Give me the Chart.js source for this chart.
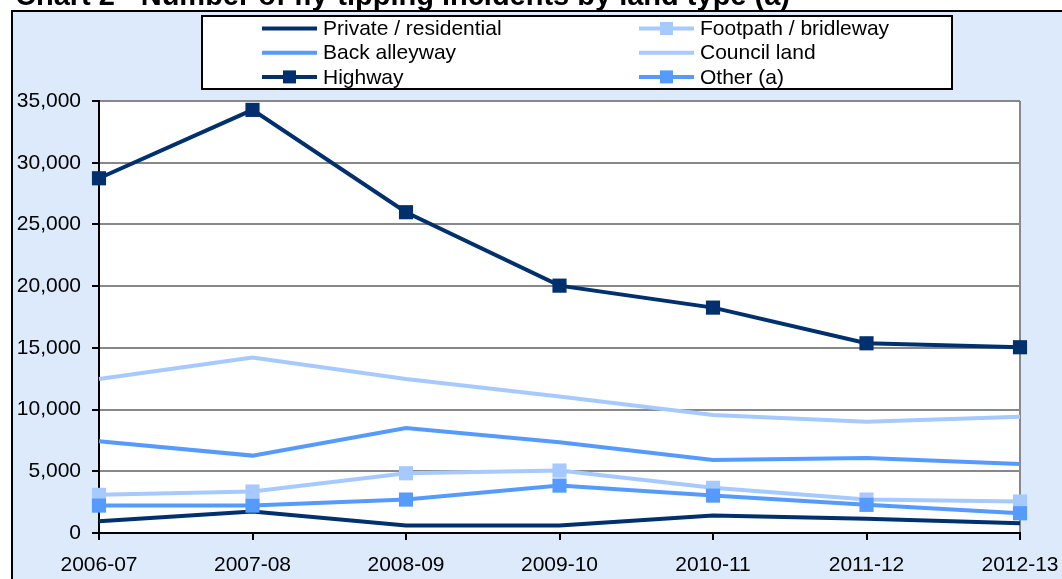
<!DOCTYPE html>
<html>
<head>
<meta charset="utf-8">
<script src="https://cdn.jsdelivr.net/npm/chart.js@4/dist/chart.umd.min.js"></script>
<style>
  html, body { margin: 0; padding: 0; background: #fff; }
  #wrap { width: 1062px; height: 579px; }
</style>
</head>
<body>
<div id="wrap"><canvas id="chartLine" width="1062" height="579"></canvas></div>
<script>
const years = ["2006-07", "2007-08", "2008-09", "2009-10", "2010-11", "2011-12", "2012-13"];

const privateRes = [950, 1740, 610, 610, 1420, 1150, 790];
const footpath = [3090, 3360, 4840, 5060, 3660, 2710, 2550];
const backAlley = [7430, 6270, 8510, 7350, 5920, 6080, 5600];
const council = [12480, 14210, 12480, 11050, 9560, 9020, 9420];
const highway = [28740, 34280, 25990, 20040, 18260, 15370, 15050];
const other = [2220, 2220, 2710, 3840, 3030, 2280, 1600];

const yTicks = [0, 5000, 10000, 15000, 20000, 25000, 30000, 35000];

const titleText = "Chart 2 - Number of fly-tipping incidents by land type (a)";

const DARK = "#00306e";
const MID = "#559bff";
const LIGHT = "#a6caff";
const FONT = "'Liberation Sans', Arial, sans-serif";

// series in the order of the legend (row by row)
const series = [
  { label: "Private / residential", data: privateRes, color: DARK, marker: false },
  { label: "Footpath / bridleway", data: footpath, color: LIGHT, marker: true },
  { label: "Back alleyway", data: backAlley, color: MID, marker: false },
  { label: "Council land", data: council, color: LIGHT, marker: false },
  { label: "Highway", data: highway, color: DARK, marker: true },
  { label: "Other (a)", data: other, color: MID, marker: true },
];

// background, frame and title
const framePlugin = {
  id: "frame",
  beforeDraw(chart) {
    const { ctx, width, height, chartArea } = chart;
    ctx.save();
    ctx.fillStyle = "#ffffff";
    ctx.fillRect(0, 0, width, height);
    ctx.fillStyle = "#dceafb";
    ctx.fillRect(13, 12, width - 13, height - 12);
    ctx.strokeStyle = "#000";
    ctx.lineWidth = 2;
    ctx.beginPath();
    ctx.moveTo(12, height);
    ctx.lineTo(12, 11);
    ctx.lineTo(width, 11);
    ctx.stroke();
    ctx.fillStyle = "#ffffff";
    ctx.fillRect(chartArea.left, chartArea.top, chartArea.right - chartArea.left, chartArea.bottom - chartArea.top);
    ctx.fillStyle = "#000";
    ctx.font = "bold 29px " + FONT;
    ctx.textBaseline = "alphabetic";
    ctx.textAlign = "left";
    ctx.fillText(titleText, 15, 5);
    ctx.restore();
  },
};

// two-column legend box like the original
const legendPlugin = {
  id: "boxLegend",
  afterDraw(chart) {
    const { ctx } = chart;
    ctx.save();
    ctx.fillStyle = "#fff";
    ctx.fillRect(202, 16, 750, 73);
    ctx.strokeStyle = "#000";
    ctx.lineWidth = 2;
    ctx.strokeRect(202, 16, 750, 73);
    ctx.font = "21px " + FONT;
    ctx.textBaseline = "middle";
    ctx.textAlign = "left";
    chart.data.datasets.forEach((ds, i) => {
      const col = i % 2;
      const row = Math.floor(i / 2);
      const x0 = col ? 639 : 262;
      const x1 = x0 + 55;
      const y = 28.5 + row * 24.2;
      ctx.strokeStyle = ds.borderColor;
      ctx.lineWidth = 4;
      ctx.beginPath();
      ctx.moveTo(x0, y);
      ctx.lineTo(x1, y);
      ctx.stroke();
      if (ds.pointRadius > 0) {
        ctx.fillStyle = ds.borderColor;
        ctx.fillRect((x0 + x1) / 2 - 6.5, y - 6.5, 13, 13);
      }
      ctx.fillStyle = "#000";
      ctx.fillText(ds.label, x1 + 6, y + 1);
    });
    ctx.restore();
  },
};

const ctxLine = document.getElementById("chartLine");

new Chart(ctxLine, {
  type: "line",
  data: {
    labels: years,
    datasets: series.map((s, i) => ({
      label: s.label,
      data: s.data,
      borderColor: s.color,
      backgroundColor: s.color,
      borderWidth: 4,
      tension: 0,
      pointStyle: "rect",
      pointRadius: s.marker ? 10 : 0,
      pointHoverRadius: s.marker ? 10 : 0,
      pointBorderWidth: 0,
      order: series.length - i,
    })),
  },
  options: {
    responsive: false,
    animation: false,
    layout: {
      padding: { left: 0, top: 101, right: 42, bottom: 0 },
    },
    plugins: {
      legend: { display: false },
      title: { display: false },
      tooltip: { enabled: false },
    },
    scales: {
      x: {
        offset: false,
        grid: {
          color: (c) => (c.index === years.length - 1 ? "#888888" : "rgba(0,0,0,0)"),
          tickColor: "#000",
          tickLength: 7,
          lineWidth: 2,
        },
        border: { color: "#000", width: 2 },
        ticks: {
          color: "#000",
          font: { family: FONT, size: 21 },
          padding: 13,
          maxRotation: 0,
          autoSkip: false,
        },
        afterFit(scale) {
          scale.height = 46;
          scale.paddingLeft = 0;
          scale.paddingRight = 0;
        },
      },
      y: {
        min: 0,
        max: 35000,
        afterBuildTicks(scale) {
          scale.ticks = yTicks.map((v) => ({ value: v }));
        },
        grid: {
          color: "#888888",
          tickColor: "#000",
          tickLength: 7,
          lineWidth: 2,
        },
        border: { color: "#000", width: 2 },
        ticks: {
          color: "#000",
          font: { family: FONT, size: 21 },
          padding: 11,
          callback: (v) => v.toLocaleString("en-US"),
        },
        afterFit(scale) {
          scale.width = 99;
        },
      },
    },
  },
  plugins: [framePlugin, legendPlugin],
});
</script>
</body>
</html>
